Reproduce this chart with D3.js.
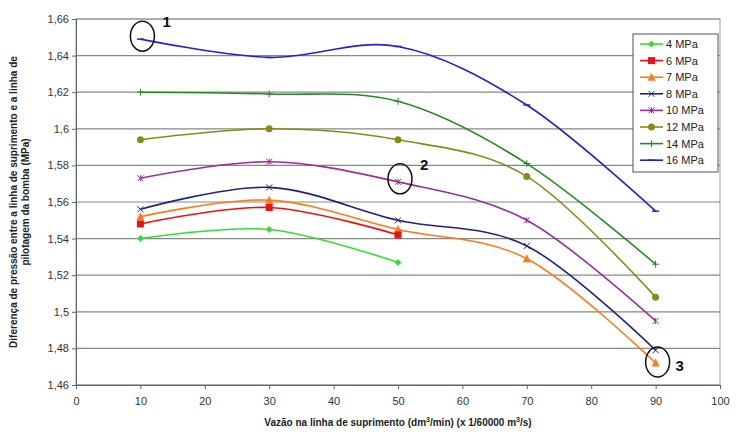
<!DOCTYPE html>
<html><head><meta charset="utf-8">
<script src="https://cdn.jsdelivr.net/npm/d3@7"></script>
<style>body{margin:0;background:#fff}</style>
</head><body>
<svg id="c" width="737" height="435"></svg>
<script>
// values
var xs = [10, 30, 50, 70, 90];
var seriesNames = ["4 MPa", "6 MPa", "7 MPa", "8 MPa", "10 MPa", "12 MPa", "14 MPa", "16 MPa"];
var v4  = [1.540, 1.545, 1.527];
var v6  = [1.548, 1.557, 1.542];
var v7  = [1.552, 1.561, 1.545, 1.529, 1.472];
var v8  = [1.556, 1.568, 1.550, 1.536, 1.479];
var v10 = [1.573, 1.582, 1.571, 1.550, 1.495];
var v12 = [1.594, 1.600, 1.594, 1.574, 1.508];
var v14 = [1.620, 1.619, 1.615, 1.581, 1.526];
var v16 = [1.649, 1.639, 1.645, 1.613, 1.555];
var colors = ["#33dd33", "#ee1111", "#ff7a1a", "#22227a", "#992f99", "#8a8a18", "#228b22", "#2222cc"];
var markers = ["diamond", "square", "triangle", "x", "star", "circle", "plus", "dash"];
var yTicks = [1.46, 1.48, 1.5, 1.52, 1.54, 1.56, 1.58, 1.6, 1.62, 1.64, 1.66];
var xTicks = [0, 10, 20, 30, 40, 50, 60, 70, 80, 90, 100];
var notes = [{t: "1", x: 10, y: 1.649}, {t: "2", x: 50, y: 1.571}, {t: "3", x: 90, y: 1.472}];

var allVals = [v4, v6, v7, v8, v10, v12, v14, v16];
var svg = d3.select("#c");
var x = d3.scaleLinear().domain([0, 100]).range([76, 720]);
var y = d3.scaleLinear().domain([1.46, 1.66]).range([385, 19]);
var fmt = function(d) { return String(+d.toFixed(2)).replace(".", ","); };

// grid + frame
svg.selectAll(".grid").data(yTicks).enter().append("line")
  .attr("x1", x(0)).attr("x2", x(100)).attr("y1", y).attr("y2", y)
  .attr("stroke", "#888").attr("stroke-width", 1.2);
svg.append("rect").attr("x", x(0)).attr("y", y(1.66)).attr("width", x(100) - x(0)).attr("height", y(1.46) - y(1.66))
  .attr("fill", "none").attr("stroke", "#999");

var ya = svg.append("g").attr("transform", "translate(" + x(0) + ",0)")
  .call(d3.axisLeft(y).tickValues(yTicks).tickFormat(fmt).tickSize(4));
var xa = svg.append("g").attr("transform", "translate(0," + y(1.46) + ")")
  .call(d3.axisBottom(x).tickValues(xTicks).tickSize(4));
[ya, xa].forEach(function(a) {
  a.selectAll("text").attr("font-family", "Liberation Sans Narrow, Arial Narrow, Liberation Sans").attr("font-size", 11).attr("fill", "#333");
  a.selectAll("path,line").attr("stroke", "#666");
});
xa.selectAll("text").attr("dy", "1.2em");

// axis titles
var xt = svg.append("text").attr("x", 398).attr("y", 426).attr("text-anchor", "middle")
  .attr("font-family", "Liberation Sans Narrow, Liberation Sans").attr("font-weight", "bold").attr("font-size", 10).attr("fill", "#222");
xt.append("tspan").text("Vazão na linha de suprimento (dm");
xt.append("tspan").attr("dy", -4).attr("font-size", 7).text("3");
xt.append("tspan").attr("dy", 4).text("/min) (x 1/60000 m");
xt.append("tspan").attr("dy", -4).attr("font-size", 7).text("3");
xt.append("tspan").attr("dy", 4).text("/s)");
var yt = svg.append("text").attr("transform", "translate(17,202) rotate(-90)").attr("text-anchor", "middle")
  .attr("font-family", "Liberation Sans Narrow, Liberation Sans").attr("font-weight", "bold").attr("font-size", 10).attr("fill", "#222");
yt.append("tspan").attr("x", 0).attr("dy", 0).text("Diferença de pressão entre a linha de suprimento e a linha de");
yt.append("tspan").attr("x", 0).attr("dy", 12).text("pilotagem da bomba (MPa)");

function marker(g, type, c) {
  if (type === "diamond") g.append("path").attr("d", "M0,-3.5L3.5,0L0,3.5L-3.5,0Z").attr("fill", c);
  else if (type === "square") g.append("rect").attr("x", -3.5).attr("y", -3.5).attr("width", 7).attr("height", 7).attr("fill", c);
  else if (type === "triangle") g.append("path").attr("d", "M0,-4.5L4,3.5L-4,3.5Z").attr("fill", c);
  else if (type === "circle") g.append("circle").attr("r", 3.5).attr("fill", c);
  else if (type === "x") g.append("path").attr("d", "M-3,-3L3,3M-3,3L3,-3").attr("stroke", c).attr("stroke-width", 1);
  else if (type === "star") g.append("path").attr("d", "M-3,-3L3,3M-3,3L3,-3M0,-3V3").attr("stroke", c).attr("stroke-width", 1);
  else if (type === "plus") g.append("path").attr("d", "M-3.5,0H3.5M0,-3.5V3.5").attr("stroke", c).attr("stroke-width", 1);
  else if (type === "dash") g.append("path").attr("d", "M-3.5,0H3.5").attr("stroke", c).attr("stroke-width", 1.5);
}

var line = d3.line().x(function(d) { return x(d[0]); }).y(function(d) { return y(d[1]); })
  .curve(d3.curveCatmullRom.alpha(0));
for (var s = allVals.length - 1; s >= 0; s--) {
  var pts = allVals[s].map(function(v, i) { return [xs[i], v]; });
  svg.append("path").attr("d", line(pts)).attr("fill", "none").attr("stroke", colors[s]).attr("stroke-width", 1.6);
  pts.forEach(function(p) {
    marker(svg.append("g").attr("transform", "translate(" + x(p[0]) + "," + y(p[1]) + ")"), markers[s], colors[s]);
  });
}

// annotations
notes.forEach(function(n) {
  var three = n.t === "3";
  svg.append("ellipse").attr("cx", x(n.x) + 2).attr("cy", y(n.y) - (three ? 1 : 3)).attr("rx", 12).attr("ry", 15)
    .attr("fill", "none").attr("stroke", "#111").attr("stroke-width", 1.5);
  svg.append("text").attr("x", x(n.x) + (three ? 20 : 22)).attr("y", y(n.y) - (three ? -8 : 12))
    .attr("font-family", "Liberation Sans").attr("font-weight", "bold").attr("font-size", 15).attr("fill", "#111").text(n.t);
});

// legend
var lg = svg.append("g").attr("transform", "translate(633,34)");
lg.append("rect").attr("width", 85).attr("height", 138).attr("fill", "#fff").attr("stroke", "#555");
seriesNames.forEach(function(nm, i) {
  var gy = 10 + i * 16.6;
  lg.append("line").attr("x1", 7).attr("x2", 30).attr("y1", gy).attr("y2", gy).attr("stroke", colors[i]).attr("stroke-width", 1.6);
  marker(lg.append("g").attr("transform", "translate(18.5," + gy + ")"), markers[i], colors[i]);
  lg.append("text").attr("x", 33).attr("y", gy + 4).attr("font-family", "Liberation Sans Narrow, Liberation Sans")
    .attr("font-size", 11).attr("fill", "#222").text(nm);
});
</script>
</body></html>
